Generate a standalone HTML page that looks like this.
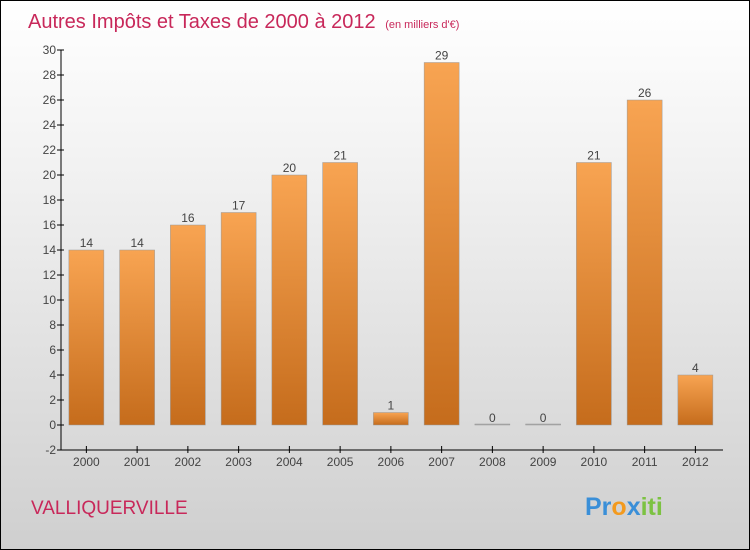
<!DOCTYPE html>
<html><head><meta charset="utf-8"><style>
body{margin:0}
#c{width:748px;height:548px;border:1px solid #000;background:linear-gradient(#fff,#f2f2f2 30%,#cfcfcf);position:relative;overflow:hidden;font-family:"Liberation Sans",sans-serif}
</style></head><body>
<div id="c">
<svg width="748" height="548">
<defs><linearGradient id="g" x1="0" y1="0" x2="0" y2="1"><stop offset="0" stop-color="#f8a452"/><stop offset="1" stop-color="#c56c1c"/></linearGradient></defs>
<text x="27" y="27" font-size="20" fill="#c8285a">Autres Impôts et Taxes de 2000 à 2012 <tspan font-size="11" dx="4">(en milliers d'€)</tspan></text>
<text x="30" y="513" font-size="19" fill="#c8285a">VALLIQUERVILLE</text>
<text x="584" y="514" font-size="25" font-weight="bold"><tspan fill="#3a8fd8">Pr</tspan><tspan fill="#f39a1e">o</tspan><tspan fill="#3a8fd8">x</tspan><tspan fill="#7cc242">iti</tspan></text>
<g id="ax"></g><g id="bars"></g>
</svg></div>
<script>
const years=["2000","2001","2002","2003","2004","2005","2006","2007","2008","2009","2010","2011","2012"];
const values=[14,14,16,17,20,21,1,29,0,0,21,26,4];
const yTicks=[-2,0,2,4,6,8,10,12,14,16,18,20,22,24,26,28,30];
const NS="http://www.w3.org/2000/svg";
const x0=60,step=50.75,bw=35;
const y=v=>424-v*12.5;
const xc=i=>x0+step*(i+0.5);
function mk(t,a,p){const e=document.createElementNS(NS,t);for(const k in a)e.setAttribute(k,a[k]);p.appendChild(e);return e;}
const ax=document.getElementById('ax'),bars=document.getElementById('bars');
let l=mk('line',{x1:x0,y1:y(30),x2:x0,y2:y(-2),stroke:'#000'},ax);


l=mk('line',{x1:x0,y1:y(-2),x2:722,y2:y(-2),stroke:'#000'},ax);


yTicks.forEach(v=>{
 mk('line',{x1:x0-4,y1:y(v),x2:x0+3,y2:y(v),stroke:'#000'},ax);
 const t=mk('text',{x:x0-5,y:y(v)+4,'font-size':12,'text-anchor':'end',fill:'#444'},ax);t.textContent=v;
 
 
});
years.forEach((yr,i)=>{
 mk('line',{x1:xc(i),y1:y(-2)-4,x2:xc(i),y2:y(-2)+3,stroke:'#000'},ax);
 const t=mk('text',{x:xc(i),y:y(-2)+16,'font-size':12,'text-anchor':'middle',fill:'#444'},ax);t.textContent=yr;
 
 
 const v=values[i];
 const h=Math.max(Math.abs(y(v)-y(0)),1);
 const r=mk('rect',{x:xc(i)-bw/2,y:Math.min(y(v),y(0)-(v===0?1:0)),width:bw,height:h,fill:v===0?'#aaa':'url(#g)',stroke:'#999','stroke-width':0.5},bars);
 
 
 const lb=mk('text',{x:xc(i),y:y(v)-3,'font-size':12,'text-anchor':'middle',fill:'#444'},bars);lb.textContent=v;
 
 
});
</script>
</body></html>
